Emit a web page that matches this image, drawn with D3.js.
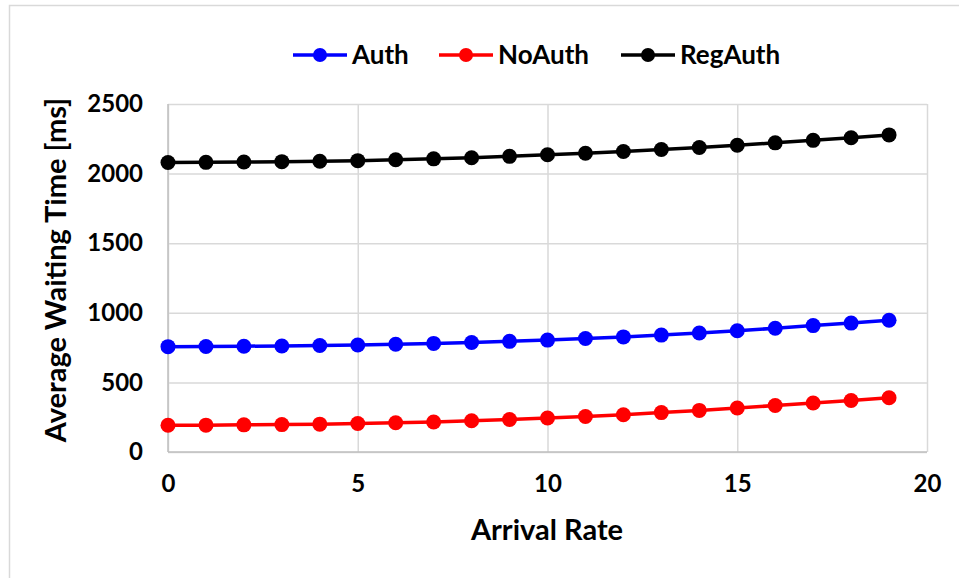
<!DOCTYPE html>
<html>
<head>
<meta charset="utf-8">
<script src="https://cdn.jsdelivr.net/npm/d3@7"></script>
<style>
  body { margin: 0; background: #fff; }
  svg { display: block; font-family: Lato, "Open Sans", sans-serif; font-weight: bold; }
</style>
</head>
<body>
<div id="chart"></div>
<script>
// arrival rate 0..19
var rates = [0,1,2,3,4,5,6,7,8,9,10,11,12,13,14,15,16,17,18,19];
var authVals = [757,758,760,762,765,769,774,780,787,795,804,815,827,840,855,871,889,908,926,946];
var noAuthVals = [192,193,195,197,200,205,210,216,224,233,244,255,268,283,299,316,334,352,370,390];
var regAuthVals = [2080,2081,2083,2086,2089,2093,2099,2106,2114,2124,2135,2146,2159,2173,2188,2204,2221,2239,2258,2278];
var seriesNames = ["Auth", "NoAuth", "RegAuth"];
var seriesColors = ["#0000ff", "#ff0000", "#000000"];
var xTicks = [0,5,10,15,20];
var yTicks = [0,500,1000,1500,2000,2500];

var W = 959, H = 578;
var svg = d3.select("#chart").append("svg")
    .attr("width", W)
    .attr("height", H);

// outer chart border (only left/top visible in crop)
svg.append("rect")
    .attr("x", 9.5).attr("y", 5.5)
    .attr("width", W + 20).attr("height", H + 20)
    .style("fill", "none")
    .style("stroke", "#d9d9d9")
    .style("stroke-width", 1.5);

var x = d3.scaleLinear().domain([0, 20]).range([168, 927]);
var y = d3.scaleLinear().domain([0, 2500]).range([452, 104]);

// gridlines
svg.append("g")
    .attr("transform", "translate(0,452)")
    .call(d3.axisBottom(x).tickValues(xTicks).tickSize(-(452 - 104)).tickFormat(""))
    .call(function(g) { g.select(".domain").remove(); })
    .selectAll("line").style("stroke", "#d9d9d9").style("stroke-width", 1.5);
svg.append("g")
    .attr("transform", "translate(168,0)")
    .call(d3.axisLeft(y).tickValues(yTicks).tickSize(-(927 - 168)).tickFormat(""))
    .call(function(g) { g.select(".domain").remove(); })
    .selectAll("line").style("stroke", "#d9d9d9").style("stroke-width", 1.5);

// axis lines
svg.append("line")
    .attr("x1", 168).attr("x2", 927).attr("y1", 452).attr("y2", 452)
    .style("stroke", "#bfbfbf").style("stroke-width", 1.5);
svg.append("line")
    .attr("x1", 168).attr("x2", 168).attr("y1", 104).attr("y2", 452)
    .style("stroke", "#bfbfbf").style("stroke-width", 1.5);

// tick labels
var xAx = svg.append("g")
    .attr("transform", "translate(0,452)")
    .call(d3.axisBottom(x).tickValues(xTicks).tickSize(0).tickPadding(23).tickFormat(d3.format("d")));
xAx.select(".domain").remove();
xAx.selectAll("text")
    .style("font-family", "Lato, sans-serif")
    .style("font-weight", "bold")
    .style("font-size", "24px")
    .style("fill", "#000");

var yAx = svg.append("g")
    .attr("transform", "translate(168,0)")
    .call(d3.axisLeft(y).tickValues(yTicks).tickSize(0).tickPadding(25).tickFormat(d3.format("d")));
yAx.select(".domain").remove();
yAx.selectAll("text")
    .style("font-family", "Lato, sans-serif")
    .style("font-weight", "bold")
    .style("font-size", "24px")
    .style("fill", "#000");

// axis titles
svg.append("text")
    .attr("x", 547).attr("y", 540)
    .attr("text-anchor", "middle")
    .style("font-size", "29px")
    .text("Arrival Rate");
svg.append("text")
    .attr("transform", "translate(66,270) rotate(-90)")
    .attr("text-anchor", "middle")
    .style("font-size", "29px")
    .text("Average Waiting Time [ms]");

// series
var allSeries = [authVals, noAuthVals, regAuthVals];
var line = d3.line()
    .x(function(d, i) { return x(rates[i]); })
    .y(function(d) { return y(d); });

for (var s = 0; s < allSeries.length; s++) {
    svg.append("path")
        .datum(allSeries[s])
        .attr("d", line)
        .style("fill", "none")
        .style("stroke", seriesColors[s])
        .style("stroke-width", 3.5);
    svg.append("g").selectAll("circle")
        .data(allSeries[s])
        .enter().append("circle")
        .attr("cx", function(d, i) { return x(rates[i]); })
        .attr("cy", function(d) { return y(d); })
        .attr("r", 7.5)
        .style("fill", seriesColors[s]);
}

// legend
var legendX = [293, 439, 621];
var leg = svg.append("g");
for (var k = 0; k < seriesNames.length; k++) {
    var lg = leg.append("g").attr("transform", "translate(" + legendX[k] + ",55)");
    lg.append("line")
        .attr("x1", 0).attr("x2", 54).attr("y1", 0).attr("y2", 0)
        .style("stroke", seriesColors[k]).style("stroke-width", 3.5);
    lg.append("circle")
        .attr("cx", 27).attr("cy", 0).attr("r", 7)
        .style("fill", seriesColors[k]);
    lg.append("text")
        .attr("x", 59).attr("y", 9)
        .style("font-size", "26px")
        .text(seriesNames[k]);
}
</script>
</body>
</html>
